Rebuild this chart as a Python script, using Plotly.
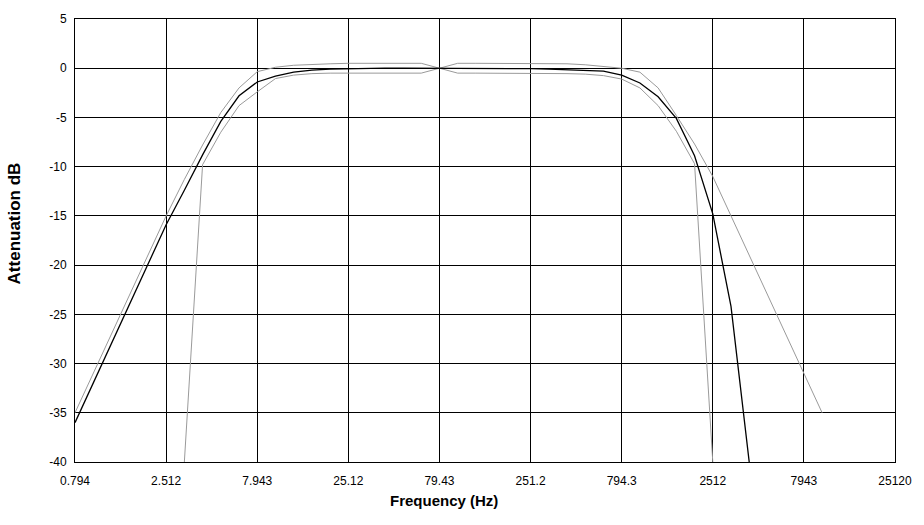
import plotly.graph_objects as go

# 1/3-octave band centre frequencies (Hz)
freqs = [0.794, 1.0, 1.259, 1.585, 1.995, 2.512, 3.162, 3.981, 5.012, 6.310,
         7.943, 10.0, 12.59, 15.85, 19.95, 25.12, 31.62, 39.81, 50.12, 63.10,
         79.43, 100.0, 125.9, 158.5, 199.5, 251.2, 316.2, 398.1, 501.2, 631.0,
         794.3, 1000.0, 1259.0, 1585.0, 1995.0, 2512.0, 3162.0, 3981.0, 5012.0, 6310.0,
         7943.0, 10000.0]

# Nominal response (black)
nominal_db = [-36.0, -32.0, -28.0, -24.0, -20.0, -15.9, -12.4, -8.8, -5.4, -2.8,
              -1.4, -0.8, -0.4, -0.2, -0.1, -0.05, 0.0, 0.0, 0.0, 0.0,
              0.0, 0.0, 0.0, 0.0, 0.0, -0.05, -0.1, -0.15, -0.2, -0.3,
              -0.7, -1.5, -2.9, -5.1, -8.9, -14.8, -24.2, -40.0, None, None,
              None, None]

# Upper tolerance limit (grey)
upper_db = [-35.0, -31.0, -27.0, -23.0, -19.0, -15.0, -11.3, -7.8, -4.5, -2.0,
            -0.35, 0.1, 0.3, 0.4, 0.45, 0.5, 0.5, 0.5, 0.5, 0.5,
            0.0, 0.5, 0.5, 0.5, 0.5, 0.5, 0.5, 0.45, 0.35, 0.2,
            0.0, -0.4, -2.0, -4.8, -7.7, -11.0, -15.0, -19.0, -23.0, -27.0,
            -31.0, -35.0]

# Lower tolerance limit (grey)
lower_db = [None, None, None, None, None, None, -40.0, -9.8, -6.5, -3.8,
            -2.4, -1.05, -0.7, -0.55, -0.5, -0.5, -0.5, -0.5, -0.5, -0.5,
            0.0, -0.5, -0.5, -0.5, -0.5, -0.5, -0.5, -0.55, -0.6, -0.75,
            -1.1, -2.0, -3.8, -6.4, -9.7, -40.0, None, None, None, None,
            None, None]

tick_vals = [0.794, 2.512, 7.943, 25.12, 79.43, 251.2, 794.3, 2512, 7943, 25120]
tick_text = ["0.794", "2.512", "7.943", "25.12", "79.43", "251.2", "794.3", "2512", "7943", "25120"]
y_ticks = [5, 0, -5, -10, -15, -20, -25, -30, -35, -40]
y_tick_text = ["5", "0", "-5", "-10", "-15", "-20", "-25", "-30", "-35", "-40"]

GREY = "#9a9a9a"
FONT = "Liberation Sans, Arial, sans-serif"

fig = go.Figure()
fig.add_trace(go.Scatter(x=freqs, y=upper_db, mode="lines",
                         line=dict(color=GREY, width=1), connectgaps=False,
                         showlegend=False, hoverinfo="skip"))
fig.add_trace(go.Scatter(x=freqs, y=lower_db, mode="lines",
                         line=dict(color=GREY, width=1), connectgaps=False,
                         showlegend=False, hoverinfo="skip"))
fig.add_trace(go.Scatter(x=freqs, y=nominal_db, mode="lines",
                         line=dict(color="#000000", width=1.3), connectgaps=False,
                         showlegend=False, hoverinfo="skip"))

W, H = 924, 525
# target plot box in window pixels
px0, px1, py0, py1 = 75, 904, 12, 462

fig.update_layout(
    width=W, height=H,
    margin=dict(l=px0, r=W - px1, t=py0, b=H - py1, pad=0),
    paper_bgcolor="white", plot_bgcolor="white",
    font=dict(family=FONT, size=12, color="#000000"),
    xaxis=dict(type="log",
               range=[-0.10018, 4.40002],
               tickvals=tick_vals, ticktext=tick_text,
               showgrid=True, gridcolor="#000000", gridwidth=1,
               showline=True, linecolor="#000000", linewidth=1, mirror=True,
               ticks="outside", ticklen=8, tickcolor="rgba(0,0,0,0)", zeroline=False,
               ticklabeloverflow="allow",
               tickfont=dict(family=FONT, size=12, color="#000000")),
    yaxis=dict(range=[-40, 5], tickvals=y_ticks, ticktext=y_tick_text,
               showgrid=True, gridcolor="#000000", gridwidth=1,
               showline=True, linecolor="#000000", linewidth=1, mirror=True,
               ticks="outside", ticklen=5, tickcolor="rgba(0,0,0,0)", zeroline=False,
               ticklabeloverflow="allow",
               tickfont=dict(family=FONT, size=12, color="#000000")),
    annotations=[
        dict(text="<b>Frequency (Hz)</b>", xref="paper", yref="paper",
             x=(448 - px0) / (px1 - px0), y=(py1 - 501) / (py1 - py0),
             xanchor="center", yanchor="middle", showarrow=False,
             font=dict(family=FONT, size=15, color="#000000")),
        dict(text="<b>Attenuation dB</b>", xref="paper", yref="paper",
             x=(14 - px0) / (px1 - px0), y=(py1 - 220) / (py1 - py0), textangle=-90,
             xanchor="center", yanchor="middle", showarrow=False,
             font=dict(family=FONT, size=17, color="#000000")),
    ],
)

# remove the default 8px page margin so the figure fills the window exactly
fig.write_html("out.html", config={"displayModeBar": False},
               post_script="document.body.style.margin='0';")
